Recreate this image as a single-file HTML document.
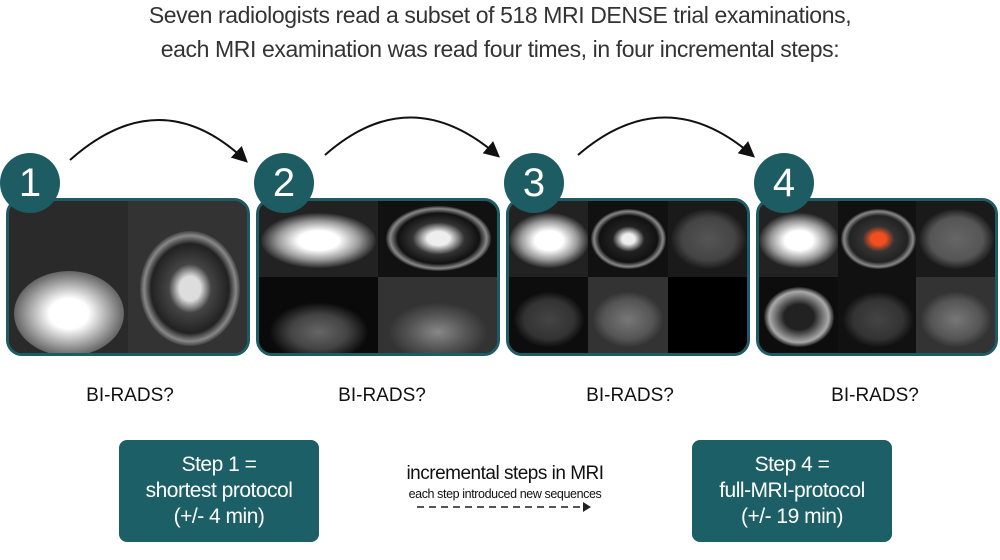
<!DOCTYPE html>
<html><head><meta charset="utf-8"><style>
body{margin:0;width:1000px;height:560px;background:#fff;position:relative;overflow:hidden;font-family:"Liberation Sans",sans-serif;}
.t{position:absolute;left:0;width:1000px;text-align:center;font-size:23px;color:#333;letter-spacing:-0.4px}
.panel{position:absolute;top:198px;width:238px;height:152px;border:3px solid #1d5c63;border-radius:16px;background:#111;overflow:hidden;display:grid}
.c{position:absolute;width:60px;height:60px;border-radius:50%;background:#1d5c63;color:#fff;font-size:40px;text-align:center;line-height:60px;top:153px}
.q{position:absolute;top:385px;font-size:19px;color:#111;width:150px;text-align:center}
.box{position:absolute;top:440px;height:102px;width:200px;background:#1d5f66;border-radius:8px;color:#fff;font-size:21px;text-align:center;line-height:26px;box-sizing:border-box;padding-top:12px;letter-spacing:-0.5px}
.i{position:relative;overflow:hidden}
.blob{position:absolute;border-radius:50%}
</style></head><body>
<div class="t" style="top:2px">Seven radiologists read a subset of 518 MRI DENSE trial examinations,</div>
<div class="t" style="top:36px">each MRI examination was read four times, in four incremental steps:</div>
<svg style="position:absolute;left:0;top:0" width="1000" height="200">
<defs><marker id="a" markerWidth="8" markerHeight="8" refX="6" refY="4" orient="auto"><path d="M0,0L8,4L0,8z" fill="#111"/></marker></defs>
<path d="M70,160 Q160,80 245,160" fill="none" stroke="#111" stroke-width="2" marker-end="url(#a)"/>
<path d="M325,155 Q410,80 497,155" fill="none" stroke="#111" stroke-width="2" marker-end="url(#a)"/>
<path d="M578,155 Q665,80 752,155" fill="none" stroke="#111" stroke-width="2" marker-end="url(#a)"/>
</svg>
<div class="panel" style="left:6px;grid-template-columns:1fr 1fr">
<div class="i" style="background:#2a2a2a"><div class="blob" style="left:5px;top:70px;width:110px;height:85px;background:radial-gradient(#fff 25%,#aaa 50%,#555 75%,transparent 80%)"></div></div>
<div class="i" style="background:#333"><div class="blob" style="left:12px;top:30px;width:100px;height:115px;background:radial-gradient(#ddd 15%,#444 30%,#222 55%,#888 65%,transparent 72%)"></div></div>
</div>
<div class="panel" style="left:256px;grid-template-columns:1fr 1fr;grid-template-rows:1fr 1fr">
<div class="i" style="background:#222"><div class="blob" style="left:2px;top:12px;width:115px;height:55px;background:radial-gradient(#fff 25%,#999 50%,transparent 72%)"></div></div>
<div class="i" style="background:#111"><div class="blob" style="left:8px;top:5px;width:105px;height:65px;background:radial-gradient(#eee 15%,#333 35%,#111 55%,#888 65%,transparent 72%)"></div></div>
<div class="i" style="background:#0a0a0a"><div class="blob" style="left:10px;top:25px;width:100px;height:60px;background:radial-gradient(#666,#444 40%,transparent 70%)"></div></div>
<div class="i" style="background:#333"><div class="blob" style="left:10px;top:25px;width:100px;height:60px;background:radial-gradient(#888,#555 40%,transparent 70%)"></div></div>
</div>
<div class="panel" style="left:506px;grid-template-columns:1fr 1fr 1fr;grid-template-rows:1fr 1fr">
<div class="i" style="background:#222"><div class="blob" style="left:0;top:12px;width:80px;height:55px;background:radial-gradient(#fff 25%,#999 50%,transparent 72%)"></div></div>
<div class="i" style="background:#111"><div class="blob" style="left:3px;top:8px;width:75px;height:60px;background:radial-gradient(#eee 12%,#222 30%,#111 55%,#888 65%,transparent 72%)"></div></div>
<div class="i" style="background:#1a1a1a"><div class="blob" style="left:3px;top:8px;width:75px;height:60px;background:radial-gradient(#555,#444 50%,transparent 72%)"></div></div>
<div class="i" style="background:#0d0d0d"><div class="blob" style="left:5px;top:15px;width:70px;height:55px;background:radial-gradient(#444,#333 50%,transparent 72%)"></div></div>
<div class="i" style="background:#333"><div class="blob" style="left:5px;top:15px;width:70px;height:55px;background:radial-gradient(#777,#555 50%,transparent 72%)"></div></div>
<div class="i" style="background:#000"></div>
</div>
<div class="panel" style="left:756px;width:236px;grid-template-columns:1fr 1fr 1fr;grid-template-rows:1fr 1fr">
<div class="i" style="background:#222"><div class="blob" style="left:0;top:12px;width:80px;height:55px;background:radial-gradient(#fff 25%,#999 50%,transparent 72%)"></div></div>
<div class="i" style="background:#111"><div class="blob" style="left:3px;top:8px;width:75px;height:60px;background:radial-gradient(#f05020 14%,#333 30%,#222 55%,#888 65%,transparent 72%)"></div></div>
<div class="i" style="background:#1a1a1a"><div class="blob" style="left:3px;top:8px;width:75px;height:60px;background:radial-gradient(#666,#555 50%,transparent 72%)"></div></div>
<div class="i" style="background:#0d0d0d"><div class="blob" style="left:5px;top:10px;width:70px;height:60px;background:radial-gradient(#222 30%,#aaa 60%,transparent 72%)"></div></div>
<div class="i" style="background:#111"><div class="blob" style="left:5px;top:15px;width:70px;height:55px;background:radial-gradient(#444,#333 50%,transparent 72%)"></div></div>
<div class="i" style="background:#333"><div class="blob" style="left:5px;top:15px;width:70px;height:55px;background:radial-gradient(#777,#555 50%,transparent 72%)"></div></div>
</div>
<div class="c" style="left:0">1</div>
<div class="c" style="left:254px">2</div>
<div class="c" style="left:504px">3</div>
<div class="c" style="left:754px">4</div>
<div class="q" style="left:55px">BI-RADS?</div>
<div class="q" style="left:307px">BI-RADS?</div>
<div class="q" style="left:555px">BI-RADS?</div>
<div class="q" style="left:800px">BI-RADS?</div>
<div class="box" style="left:119px">Step 1 =<br>shortest protocol<br>(+/- 4 min)</div>
<div class="box" style="left:692px">Step 4 =<br>full-MRI-protocol<br>(+/- 19 min)</div>
<div style="position:absolute;left:360px;width:290px;top:463px;text-align:center;font-size:19px;color:#111;letter-spacing:-0.5px">incremental steps in MRI</div>
<div style="position:absolute;left:360px;width:290px;top:487px;text-align:center;font-size:12.5px;color:#111;letter-spacing:-0.4px">each step introduced new sequences</div>
<svg style="position:absolute;left:415px;top:500px" width="180" height="14"><line x1="2" y1="7" x2="170" y2="7" stroke="#555" stroke-width="2" stroke-dasharray="7,5"/><path d="M168,2L176,7L168,12z" fill="#222"/></svg>
</body></html>
